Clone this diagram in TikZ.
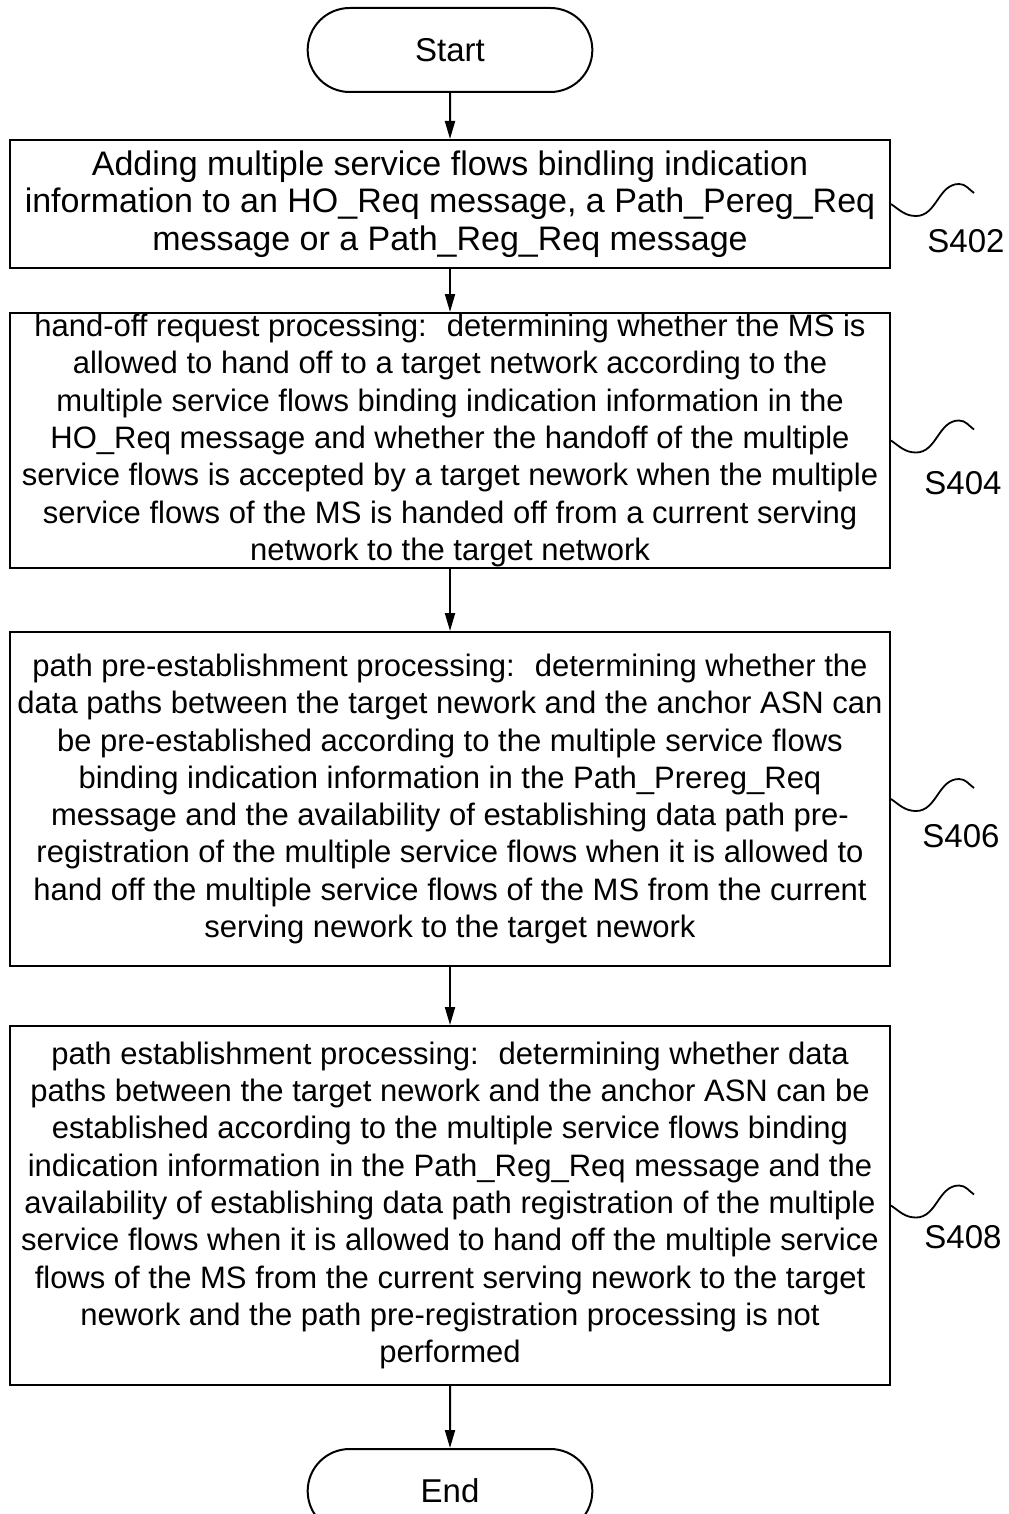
\documentclass[tikz,border=0pt]{standalone}
\usepackage{fontspec}
\setmainfont{Liberation Sans}
\usepackage{tikz}
\usetikzlibrary{arrows.meta, positioning, shapes.misc}
\tikzset{
  block/.style={draw, line width=1pt, align=center, minimum width=440pt, inner xsep=2pt, inner ysep=0pt, font=\fontsize{15.5}{18.65}\selectfont},
  terminal/.style={draw, line width=1pt, rounded rectangle, minimum width=149pt, minimum height=42pt},
  arrow/.style={-{Triangle[length=9pt, width=5pt]}, line width=1pt},
  squiggle/.style={line width=0.9pt},
  steplabel/.style={align=center},
  every node/.style={font=\fontsize{16.5}{18.65}\selectfont}
}

\begin{document}
\begin{tikzpicture}[node distance=24pt]
    \useasboundingbox (0,0) rectangle (504pt,-757pt);
    \node[terminal] (start) at (225pt,-25pt) {Start};
    \node[block, font=\fontsize{17}{18.65}\selectfont, minimum height=64pt, below=23pt of start] (s402) {Adding multiple service flows bindling indication\\information to an HO\_Req message, a Path\_Pereg\_Req\\message or a Path\_Reg\_Req message};
    \node[block, minimum height=127.5pt, below=21.5pt of s402] (s404) {hand-off request processing:~ determining whether the MS is\\allowed to hand off to a target network according to the\\multiple service flows binding indication information in the\\HO\_Req message and whether the handoff of the multiple\\service flows is accepted by a target nework when the multiple\\service flows of the MS is handed off from a current serving\\network to the target network};
    \node[block, minimum height=167pt, below=31pt of s404] (s406) {path pre-establishment processing:~ determining whether the\\data paths between the target nework and the anchor ASN can\\be pre-established according to the multiple service flows\\binding indication information in the Path\_Prereg\_Req\\message and the availability of establishing data path pre-\\registration of the multiple service flows when it is allowed to\\hand off the multiple service flows of the MS from the current\\serving nework to the target nework};
    \node[block, minimum height=179.5pt, below=29pt of s406] (s408) {path establishment processing:~ determining whether data\\paths between the target nework and the anchor ASN can be\\established according to the multiple service flows binding\\indication information in the Path\_Reg\_Req message and the\\availability of establishing data path registration of the multiple\\service flows when it is allowed to hand off the multiple service\\flows of the MS from the current serving nework to the target\\nework and the path pre-registration processing is not\\performed};
    \node[terminal, below=31pt of s408] (end) {End};

    \draw[arrow] (start) -- (s402);
    \draw[arrow] (s402) -- (s404);
    \draw[arrow] (s404) -- (s406);
    \draw[arrow] (s406) -- (s408);
    \draw[arrow] (s408) -- (end);

    % step numbers
    \draw[squiggle] (s402.east) to[out=-35,in=180] ++(12.5pt,-6pt) to[out=0,in=180] ++(21.5pt,16pt) to[out=0,in=145] ++(7.5pt,-4.5pt);
    \node[steplabel] (l402) at ([shift={(37.5pt,-18.5pt)}]s402.east) {S402};
    \draw[squiggle] (s404.east) to[out=-35,in=180] ++(12.5pt,-6pt) to[out=0,in=180] ++(21.5pt,16pt) to[out=0,in=145] ++(7.5pt,-4.5pt);
    \node[steplabel] (l404) at ([shift={(36pt,-21.5pt)}]s404.east) {S404};
    \draw[squiggle] (s406.east) to[out=-35,in=180] ++(12.5pt,-6pt) to[out=0,in=180] ++(21.5pt,16pt) to[out=0,in=145] ++(7.5pt,-4.5pt);
    \node[steplabel] (l406) at ([shift={(35pt,-18.5pt)}]s406.east) {S406};
    \draw[squiggle] (s408.east) to[out=-35,in=180] ++(12.5pt,-6pt) to[out=0,in=180] ++(21.5pt,16pt) to[out=0,in=145] ++(7.5pt,-4.5pt);
    \node[steplabel] (l408) at ([shift={(36pt,-16pt)}]s408.east) {S408};
\end{tikzpicture}
\end{document}
